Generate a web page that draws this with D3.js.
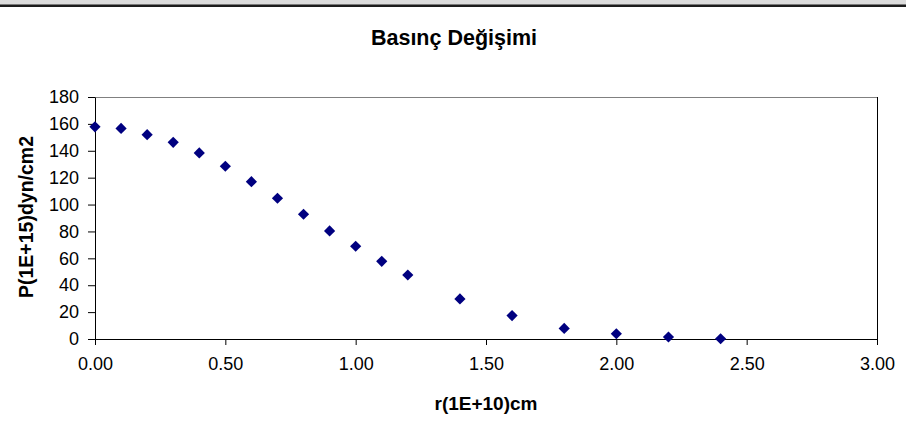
<!DOCTYPE html>
<html>
<head>
<meta charset="utf-8">
<script src="https://cdn.jsdelivr.net/npm/d3@7"></script>
<style>
  html, body { margin: 0; padding: 0; background: #fff; }
  svg { display: block; font-family: Arial, "Liberation Sans", sans-serif; }
</style>
</head>
<body>
<svg id="chart" width="906" height="430"></svg>
<script>
// Radius r (×1E+10 cm) and pressure P (×1E+15 dyn/cm2)
const radius   = [0.0, 0.1, 0.2, 0.3, 0.4, 0.5, 0.6, 0.7, 0.8, 0.9, 1.0, 1.1, 1.2, 1.4, 1.6, 1.8, 2.0, 2.2, 2.4];
const pressure = [157.8, 156.6, 152, 146.3, 138.4, 128.5, 117, 104.7, 92.8, 80.4, 69, 57.8, 47.6, 29.8, 17.4, 7.9, 3.9, 1.5, 0.2];
const xTicks = [0, 0.5, 1.0, 1.5, 2.0, 2.5, 3.0];
const yTicks = [0, 20, 40, 60, 80, 100, 120, 140, 160, 180];

const titleText = "Basınç Değişimi";
const xTitle = "r(1E+10)cm";
const yTitle = "P(1E+15)dyn/cm2";

const svg = d3.select("#chart");
const W = 906, H = 430;
const plot = { left: 95, right: 877, top: 97, bottom: 339 };

// Window-like top edge
svg.append("rect").attr("x", 0).attr("y", 0).attr("width", W).attr("height", 4).attr("fill", "#dcdcdc");
svg.append("rect").attr("x", 0).attr("y", 4).attr("width", W).attr("height", 1).attr("fill", "#7a7a7a");
svg.append("rect").attr("x", 0).attr("y", 5).attr("width", W).attr("height", 2).attr("fill", "#1c1c1c");

const x = d3.scaleLinear().domain([0, 3]).range([plot.left, plot.right]);
const y = d3.scaleLinear().domain([0, 180]).range([plot.bottom, plot.top]);

// Plot area frame: top and right edges
svg.append("line").attr("x1", plot.left).attr("x2", plot.right)
  .attr("y1", plot.top + 0.5).attr("y2", plot.top + 0.5)
  .attr("stroke", "#808080").attr("stroke-width", 1);
svg.append("line").attr("x1", plot.right + 0.5).attr("x2", plot.right + 0.5)
  .attr("y1", plot.top).attr("y2", plot.bottom)
  .attr("stroke", "#000").attr("stroke-width", 1);

// X axis
const xAxis = svg.append("g")
  .attr("transform", `translate(0,${plot.bottom})`)
  .call(d3.axisBottom(x).tickValues(xTicks).tickFormat(d3.format(".2f")).tickSizeInner(6).tickSizeOuter(0).tickPadding(12));
xAxis.select(".domain").attr("stroke", "#000");
xAxis.selectAll(".tick line").attr("stroke", "#000");
xAxis.selectAll("text").attr("font-size", "18px").attr("fill", "#000").attr("font-family", "Arial, 'Liberation Sans', sans-serif");

// Y axis
const yAxis = svg.append("g")
  .attr("transform", `translate(${plot.left},0)`)
  .call(d3.axisLeft(y).tickValues(yTicks).tickSizeInner(7).tickSizeOuter(0).tickPadding(9));
yAxis.select(".domain").attr("stroke", "#000");
yAxis.selectAll(".tick line").attr("stroke", "#000");
yAxis.selectAll("text").attr("font-size", "18px").attr("fill", "#000").attr("font-family", "Arial, 'Liberation Sans', sans-serif");

// Data points as diamonds
const diamond = d3.symbol().type(d3.symbolDiamond2).size(80);
svg.append("g").selectAll("path")
  .data(radius.map((r, i) => ({ r, p: pressure[i] })))
  .join("path")
  .attr("d", diamond)
  .attr("transform", d => `translate(${x(d.r)},${y(d.p)})`)
  .attr("fill", "#000080");

// Titles
svg.append("text").attr("x", 454).attr("y", 45)
  .attr("text-anchor", "middle").attr("font-size", "21.5px").attr("font-weight", "bold")
  .text(titleText);
svg.append("text").attr("x", (plot.left + plot.right) / 2).attr("y", 410)
  .attr("text-anchor", "middle").attr("font-size", "19px").attr("font-weight", "bold")
  .text(xTitle);
svg.append("text")
  .attr("transform", `translate(33,${(plot.top + plot.bottom) / 2 - 1}) rotate(-90)`)
  .attr("text-anchor", "middle").attr("font-size", "19.5px").attr("font-weight", "bold")
  .text(yTitle);
</script>
</body>
</html>
